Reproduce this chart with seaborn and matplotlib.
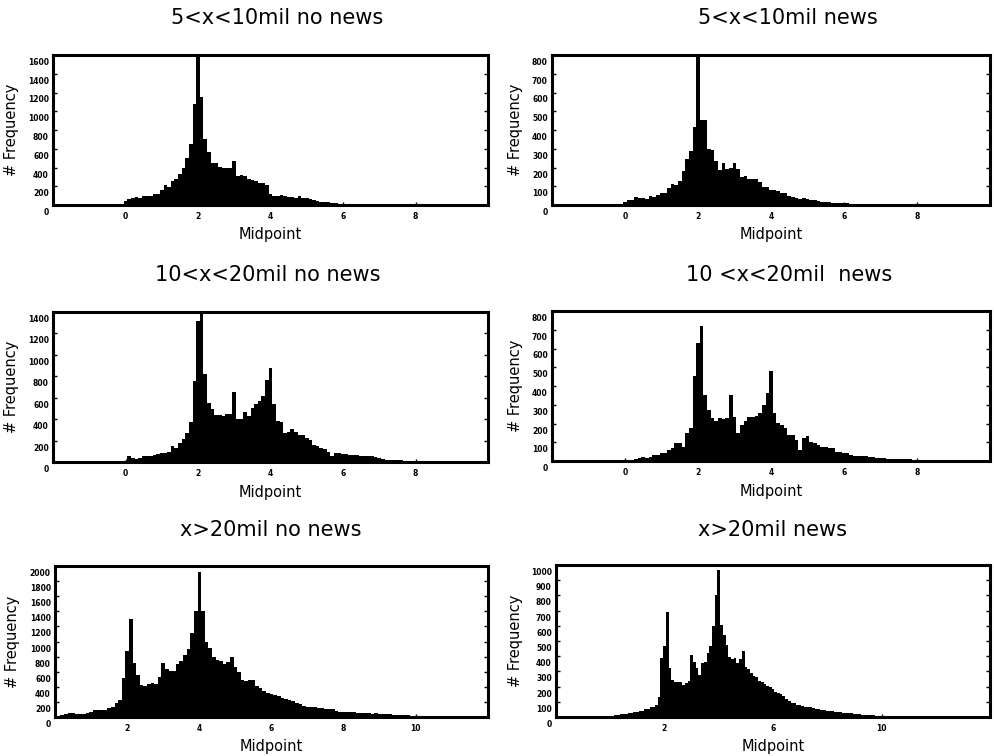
import numpy as np
import pandas as pd
import matplotlib
matplotlib.use("Agg")
import matplotlib.pyplot as plt
import matplotlib.transforms as mtransforms
import seaborn as sns

# ---------------- data (counts per 0.1-wide bin, bin k centred at 0.1*k) ----------------
titles = ["5<x<10mil no news", "5<x<10mil news",
          "10<x<20mil no news", "10 <x<20mil  news",
          "x>20mil no news", "x>20mil news"]

counts_5_10_nonews = [40, 68, 72, 89, 78, 100, 100, 92, 114, 121,
                      160, 213, 196, 256, 281, 334, 395, 501, 647, 1081,
                      1600, 1149, 700, 565, 452, 445, 410, 400, 400, 395,
                      473, 313, 324, 310, 281, 270, 260, 238, 235, 210,
                      121, 100, 92, 103, 96, 89, 82, 75, 92, 78,
                      75, 68, 57, 46, 36, 32, 28, 25, 21, 14,
                      12, 11, 10, 9, 9, 8, 8, 7, 7, 7,
                      6, 6, 6, 5, 5, 5, 5, 5, 4, 4,
                      4, 4, 4, 4, 4, 4, 4, 4, 4, 4,
                      3, 3, 3, 3, 3, 3, 3, 3]

counts_5_10_news = [16, 28, 25, 41, 37, 37, 34, 48, 41, 52,
                    64, 66, 91, 110, 107, 126, 180, 247, 286, 416,
                    800, 452, 452, 300, 295, 233, 188, 224, 194, 200,
                    224, 190, 150, 155, 140, 140, 140, 124, 94, 98,
                    82, 80, 73, 66, 62, 48, 41, 37, 34, 39,
                    34, 28, 25, 21, 18, 16, 14, 12, 11, 10,
                    9, 9, 8, 8, 7, 7, 7, 6, 6, 6,
                    6, 5, 5, 5, 5, 5, 5, 5, 4, 4,
                    4, 4, 4, 4, 4, 4, 4, 4, 4, 4,
                    4, 4, 4, 4, 4, 4]

counts_10_20_nonews = [9, 53, 41, 31, 41, 53, 57, 57, 63, 78,
                       88, 85, 94, 151, 135, 182, 213, 267, 377, 760,
                       1312, 1400, 826, 549, 493, 440, 440, 430, 449, 449,
                       650, 399, 405, 471, 430, 500, 540, 574, 618, 769,
                       876, 543, 386, 374, 267, 283, 304, 276, 251, 251,
                       220, 204, 157, 148, 135, 126, 94, 57, 85, 85,
                       78, 78, 70, 65, 63, 60, 55, 53, 60, 45,
                       35, 28, 22, 22, 18, 16, 15, 14, 13, 12,
                       12, 11, 11, 10, 10, 10, 10, 9, 9, 9,
                       9, 9, 8, 8, 8, 8, 8, 8]

counts_10_20_news = [3, 3, 5, 12, 18, 21, 18, 23, 30, 32,
                     41, 44, 59, 68, 94, 98, 76, 148, 178, 453,
                     628, 720, 352, 272, 228, 213, 228, 222, 228, 352,
                     236, 148, 192, 215, 236, 236, 240, 254, 299, 361,
                     480, 258, 204, 192, 174, 139, 139, 112, 59, 121,
                     133, 103, 98, 85, 76, 73, 68, 68, 50, 46,
                     44, 41, 32, 27, 27, 25, 28, 22, 20, 18,
                     16, 14, 12, 11, 10, 10, 9, 9, 9, 8,
                     8, 8, 8, 8, 7, 7, 7, 7, 7, 7,
                     7, 6, 6, 6, 6]

counts_20_nonews = [5, 13, 30, 40, 49, 49, 45, 40, 40, 53,
                    62, 88, 88, 88, 93, 115, 137, 190, 230, 522,
                    876, 1296, 721, 558, 425, 412, 438, 456, 434, 531,
                    712, 637, 615, 615, 699, 748, 819, 898, 1106, 1398,
                    1920, 1398, 1000, 912, 801, 757, 743, 699, 730, 792,
                    668, 602, 491, 478, 491, 491, 412, 381, 345, 323,
                    305, 292, 279, 257, 239, 226, 212, 190, 168, 150,
                    137, 137, 128, 120, 115, 102, 110, 100, 80, 71,
                    71, 66, 62, 62, 58, 53, 53, 49, 44, 49,
                    44, 40, 35, 35, 31, 27, 27, 22, 22, 18,
                    18, 13, 9, 8, 7, 7, 6, 6, 6, 5,
                    5, 5, 5, 5, 5, 4, 4, 4]

counts_20_news = [4, 6, 11, 11, 20, 20, 22, 24, 26, 31,
                  34, 37, 40, 53, 53, 68, 68, 79, 130, 387,
                  464, 688, 321, 244, 229, 233, 233, 211, 222, 237,
                  409, 365, 321, 277, 358, 365, 424, 464, 600, 804,
                  969, 607, 541, 475, 398, 380, 387, 354, 380, 431,
                  328, 314, 288, 270, 260, 237, 229, 215, 204, 196,
                  182, 167, 156, 149, 136, 120, 108, 95, 95, 79,
                  79, 73, 68, 64, 64, 57, 53, 51, 46, 46,
                  42, 40, 37, 35, 33, 31, 29, 27, 26, 24,
                  22, 20, 18, 16, 14, 13, 11, 10, 8, 7, 5]

xticks_small = [0, 2, 4, 6, 8]
xticks_big = [2, 4, 6, 8, 10]
xticks_big_news = [2, 6, 10]
yticks_1600 = list(range(0, 1601, 200))
yticks_800 = list(range(0, 801, 100))
yticks_1400 = list(range(0, 1401, 200))
yticks_2000 = list(range(0, 2001, 200))
yticks_1000 = list(range(0, 1001, 100))

# ---------------- layout ----------------
W, H = 994, 756
sns.set_theme(style="white")
plt.rcParams["font.family"] = ["DejaVu Sans"]
plt.rcParams["text.color"] = "black"
plt.rcParams["axes.labelcolor"] = "black"
plt.rcParams["xtick.color"] = "black"
plt.rcParams["ytick.color"] = "black"

fig = plt.figure(figsize=(W / 100, H / 100), dpi=100)

def rect(l, r, t, b):
    return [l / W, 1 - b / H, (r - l) / W, (b - t) / H]

panels = [
    (counts_5_10_nonews, rect(53, 488, 55, 205), (-2, 10), xticks_small, yticks_1600, (277, 18), -0.078, -0.145),
    (counts_5_10_news, rect(552, 990, 55, 205), (-2, 10), xticks_small, yticks_800, (788, 18), -0.066, -0.145),
    (counts_10_20_nonews, rect(53, 488, 312, 462), (-2, 10), xticks_small, yticks_1400, (268, 275), -0.078, -0.155),
    (counts_10_20_news, rect(552, 990, 311, 461), (-2, 10), xticks_small, yticks_800, (789, 275), -0.066, -0.155),
    (counts_20_nonews, rect(55, 488, 566, 717), (0, 12), xticks_big, yticks_2000, (271, 530), -0.081, -0.143),
    (counts_20_news, rect(556, 990, 565, 717), (-2, 14), xticks_big_news, yticks_1000, (772, 530), -0.077, -0.143),
]

label_shift = mtransforms.ScaledTranslation(0, -6.5 / 100, fig.dpi_scale_trans)

for title, (counts, r, xlim, xt, yt, txy, ylx, xly) in zip(titles, panels):
    ax = fig.add_axes(r)
    n = len(counts)
    df = pd.DataFrame({"Midpoint": np.round(np.arange(n) * 0.1, 3),
                       "count": np.asarray(counts, dtype=float)})
    sns.histplot(data=df, x="Midpoint", weights="count", bins=n,
                 binrange=(-0.05, (n - 0.5) * 0.1), color="black",
                 alpha=1, linewidth=0, ax=ax)
    ax.set_xlim(*xlim)
    ax.set_ylim(0, yt[-1])
    ax.set_xticks(xt)
    ax.set_yticks(yt)
    ax.set_xticklabels([str(v) for v in xt], fontsize=5.5, fontweight="bold")
    ax.set_yticklabels([str(v) for v in yt], fontsize=5.5, fontweight="bold")
    ax.tick_params(axis="y", which="major", direction="in", length=3, width=1,
                   left=True, right=True, pad=3, colors="black")
    ax.tick_params(axis="x", which="major", direction="in", length=2, width=1,
                   bottom=True, top=False, pad=5, colors="black")
    for sp in ax.spines.values():
        sp.set_visible(True)
        sp.set_color("black")
        sp.set_linewidth(2.2)
    ax.set_xlabel("Midpoint", fontsize=10.5, color="black")
    ax.set_ylabel("# Frequency", fontsize=10.5, color="black")
    ax.xaxis.set_label_coords(0.5, xly)
    ax.yaxis.set_label_coords(ylx, 0.5)
    ax.grid(False)
    for tick in ax.yaxis.get_major_ticks():
        tick.label1.set_transform(tick.label1.get_transform() + label_shift)
    fig.text(txy[0] / W, 1 - txy[1] / H, title, ha="center", va="center",
             fontsize=15, color="black")

fig.savefig("out.png", dpi=100, facecolor="white")
